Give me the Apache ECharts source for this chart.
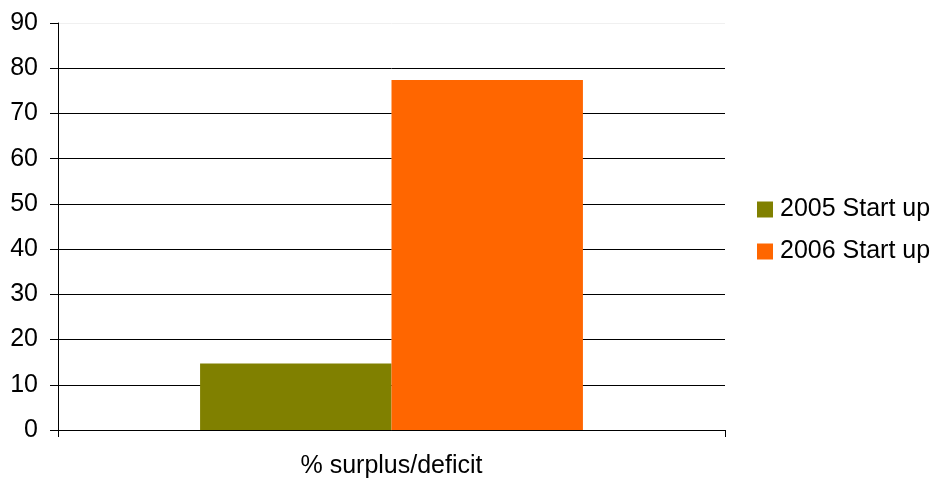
<!DOCTYPE html>
<html><head><meta charset="utf-8">
<script src="https://cdn.jsdelivr.net/npm/echarts@6/dist/echarts.min.js"></script>
<style>html,body{margin:0;padding:0;background:#fff}#c{width:937px;height:479px}</style>
</head><body><div id="c"></div>
<script>
const categories = ['% surplus/deficit'];
const seriesNames = ['2005 Start up', '2006 Start up'];
const values2005 = [14.7];
const values2006 = [77.4];
const colors = ['#808000', '#FF6600'];

const chart = echarts.init(document.getElementById('c'));
const font = 'Liberation Sans, Arial, sans-serif';
chart.setOption({
  animation: false,
  grid: { left: 58, right: 212, top: 23, bottom: 48 },
  legend: {
    orient: 'vertical', left: 752, top: 192,
    itemWidth: 16, itemHeight: 16, itemGap: 17,
    icon: 'rect',
    textStyle: { fontFamily: font, fontSize: 25, color: '#000', padding: [0, 0, 0, 2] },
    data: seriesNames
  },
  xAxis: {
    type: 'category', data: categories,
    axisLine: { lineStyle: { color: '#000', width: 1 } },
    axisTick: { show: true, length: 7, lineStyle: { color: '#000' } },
    axisLabel: { fontFamily: font, fontSize: 25, color: '#000', margin: 24 }
  },
  yAxis: {
    type: 'value', min: 0, max: 90, interval: 10,
    axisLine: { show: true, lineStyle: { color: '#000' } },
    axisTick: { show: true, length: 8, lineStyle: { color: '#000' } },
    axisLabel: { fontFamily: font, fontSize: 25, color: '#000', margin: 20 },
    splitLine: { lineStyle: { color: ['#000','#000','#000','#000','#000','#000','#000','#000','#000','#f0f0f0'], width: 1 } }
  },
  series: [
    { name: seriesNames[0], type: 'bar', data: values2005, itemStyle: { color: colors[0] }, barGap: '0%', barCategoryGap: '42.6%' },
    { name: seriesNames[1], type: 'bar', data: values2006, itemStyle: { color: colors[1] }, barGap: '0%', barCategoryGap: '42.6%' }
  ]
});
</script></body></html>
